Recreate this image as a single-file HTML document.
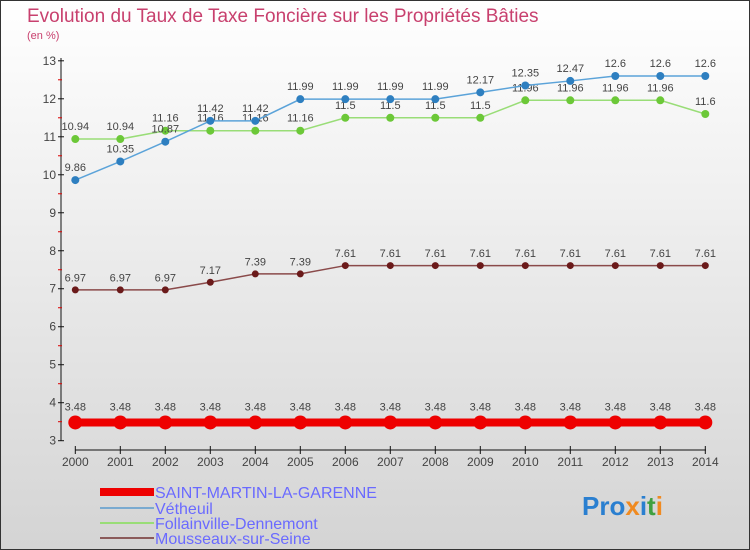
<!DOCTYPE html>
<html><head><meta charset="utf-8"><style>
body{margin:0;}
svg{display:block;font-family:"Liberation Sans",sans-serif;}
</style></head><body>
<svg id="chart" width="750" height="550" viewBox="0 0 750 550">
<defs><linearGradient id="bg" x1="0" y1="0" x2="0" y2="1"><stop offset="0" stop-color="#ffffff"/><stop offset="1" stop-color="#d4d4d4"/></linearGradient></defs>
<rect x="0.5" y="0.5" width="749" height="549" fill="url(#bg)" stroke="#333"/>
<text x="27" y="22" font-size="19" fill="#c8406e">Evolution du Taux de Taxe Foncière sur les Propriétés Bâties</text>
<text x="27" y="39" font-size="11" fill="#c8406e">(en %)</text>
<g id="axes"></g>
<g id="series"></g>
<g id="legend">
<line x1="100" y1="492" x2="154" y2="492" stroke="#ee0000" stroke-width="8"/>
<text x="155" y="498" font-size="16" fill="#6a6aff">SAINT-MARTIN-LA-GARENNE</text>
<line x1="100" y1="508" x2="154" y2="508" stroke="#7aaad0" stroke-width="2"/>
<text x="155" y="514" font-size="16" fill="#6a6aff">Vétheuil</text>
<line x1="100" y1="523" x2="154" y2="523" stroke="#99dd77" stroke-width="2"/>
<text x="155" y="529" font-size="16" fill="#6a6aff">Follainville-Dennemont</text>
<line x1="100" y1="538" x2="154" y2="538" stroke="#8a5a5a" stroke-width="2"/>
<text x="155" y="544" font-size="16" fill="#6a6aff">Mousseaux-sur-Seine</text>
</g>
<g font-size="26" font-weight="bold">
<text x="582" y="515"><tspan fill="#2a7fd0">Pro</tspan><tspan fill="#f08a20">x</tspan><tspan fill="#2a7fd0">i</tspan><tspan fill="#40a040">t</tspan><tspan fill="#f08a20">i</tspan></text>
</g>
</svg>
<script>
const years=[2000,2001,2002,2003,2004,2005,2006,2007,2008,2009,2010,2011,2012,2013,2014];
const yTicks=[3,4,5,6,7,8,9,10,11,12,13];
const saintMartin=[3.48,3.48,3.48,3.48,3.48,3.48,3.48,3.48,3.48,3.48,3.48,3.48,3.48,3.48,3.48];
const vetheuil=[9.86,10.35,10.87,11.42,11.42,11.99,11.99,11.99,11.99,12.17,12.35,12.47,12.6,12.6,12.6];
const follainville=[10.94,10.94,11.16,11.16,11.16,11.16,11.5,11.5,11.5,11.5,11.96,11.96,11.96,11.96,11.6];
const mousseaux=[6.97,6.97,6.97,7.17,7.39,7.39,7.61,7.61,7.61,7.61,7.61,7.61,7.61,7.61,7.61];

const NS='http://www.w3.org/2000/svg';
const xS=i=>75.3+i*45;
const yS=v=>440.7-(v-3)*37.99;
function mk(tag,attrs,parent){const e=document.createElementNS(NS,tag);for(const k in attrs)e.setAttribute(k,attrs[k]);parent.appendChild(e);return e;}
const axes=document.getElementById('axes');
const ya=mk('line',{x1:61,y1:58,x2:61,y2:441,stroke:'#111'},axes);


const xa=mk('line',{x1:75,y1:450,x2:706,y2:450,stroke:'#111'},axes);


yTicks.forEach(v=>{
  mk('line',{x1:58,y1:yS(v),x2:64,y2:yS(v),stroke:'#111'},axes);
  if(v<13) mk('line',{x1:58,y1:yS(v+0.5),x2:62,y2:yS(v+0.5),stroke:'#d00'},axes);
  const t=mk('text',{x:56,y:yS(v)+4,'font-size':12,fill:'#444','text-anchor':'end'},axes);
  t.textContent=v;
  
  
});
years.forEach((y,i)=>{
  mk('line',{x1:xS(i),y1:446,x2:xS(i),y2:454,stroke:'#111'},axes);
  const t=mk('text',{x:xS(i),y:466,'font-size':12,fill:'#444','text-anchor':'middle'},axes);
  t.textContent=y;
  
  
});
const sg=document.getElementById('series');
function drawSeries(vals,name,lineColor,lw,dotColor,r){
  const g=mk('g',{},sg);
  
  
  const p=mk('polyline',{points:vals.map((v,i)=>xS(i)+','+yS(v)).join(' '),fill:'none',stroke:lineColor,'stroke-width':lw},g);
  
  
  vals.forEach((v,i)=>{
    const c=mk('circle',{cx:xS(i),cy:yS(v),r:r,fill:dotColor},g);
    
    
    const t=mk('text',{x:xS(i),y:yS(v)-(r+5),'font-size':11,fill:'#444','text-anchor':'middle'},g);
    t.textContent=v;
    
    
  });
}
drawSeries(mousseaux,'mousseaux','#8a4a4a',1.5,'#6b1a1a',3.5);
drawSeries(follainville,'follainville','#99dd77',1.5,'#6cc838',4);
drawSeries(vetheuil,'vetheuil','#5ba3d9',1.5,'#2e7fc0',4);
drawSeries(saintMartin,'saint-martin','#ee0000',8,'#ee0000',7);
</script>
</body></html>
